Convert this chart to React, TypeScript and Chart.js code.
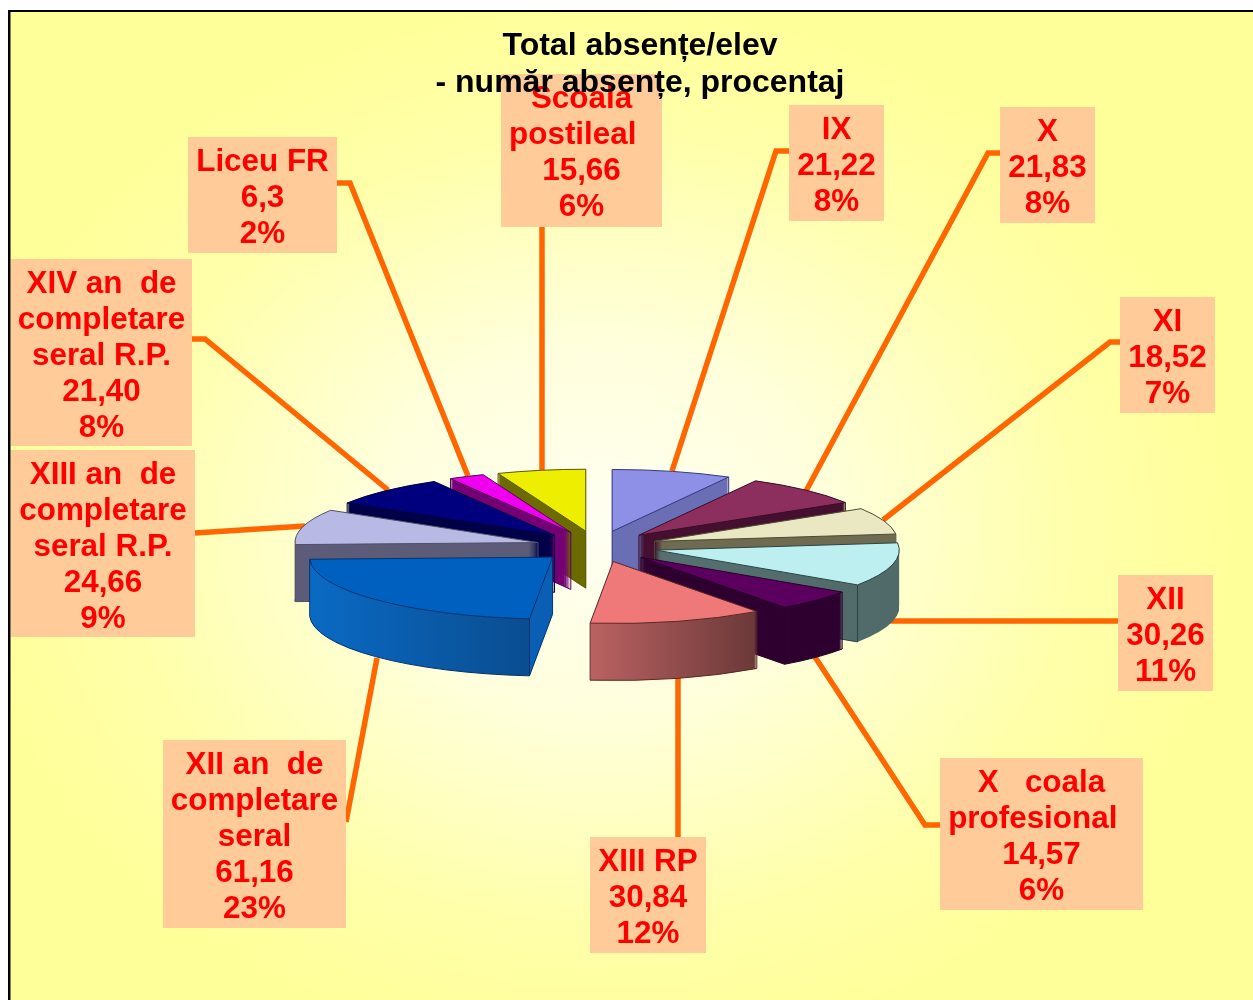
import React, { useEffect, useRef } from "react";
import { Chart, registerables } from "chart.js";

Chart.register(...registerables);

// ---- data ----
const categories: string[][] = [
  ["IX"],
  ["X"],
  ["XI"],
  ["XII"],
  ["X   coala", "profesional  "],
  ["XIII RP"],
  ["XII an  de", "completare", "seral"],
  ["XIII an  de", "completare", "seral R.P."],
  ["XIV an  de", "completare", "seral R.P."],
  ["Liceu FR"],
  ["Scoala", "postileal  "],
];
const values = [21.22, 21.83, 18.52, 30.26, 14.57, 30.84, 61.16, 24.66, 21.4, 6.3, 15.66];
const valueLabels = ["21,22", "21,83", "18,52", "30,26", "14,57", "30,84", "61,16", "24,66", "21,40", "6,3", "15,66"];
const percentLabels = ["8%", "8%", "7%", "11%", "6%", "12%", "23%", "9%", "8%", "2%", "6%"];
const titleLines = ["Total absențe/elev", "- număr absențe, procentaj"];

// ---- styles ----
const topColors = ["#8e90e8", "#8c2f5e", "#e9e8c2", "#bdeef0", "#5c0060", "#ef7878", "#0060c0", "#b9b9e6", "#00007f", "#f000f0", "#eeee00"];
const wallColorsL = ["#6a6eb4", "#451030", "#6e6b50", "#566f70", "#2d0030", "#bb6262", "#0a6ac4", "#5c5c78", "#000048", "#750075", "#6b6b00"];
const wallColorsR = ["#6a6eb4", "#451030", "#6e6b50", "#506a6a", "#2d0030", "#6a3838", "#0a4d90", "#5c5c78", "#000048", "#750075", "#6b6b00"];
const edgeColors = ["#34377a", "#3a0c28", "#4c4c34", "#2c4444", "#280028", "#5c2626", "#003470", "#50506a", "#000038", "#580058", "#585800"];
const BLUE_FACE = "#0a5fb4";
const BLUE_INDEX = 6;

// ---- layout ----
const PIE_X = 597;
const PIE_Y = 546.5;
const RADIUS = 243;
const EXPLODE = 61;
const TILT = 0.255;
const DEPTH = 57;
const ORANGE = "#ff6600";
const BOX = "#ffcc99";
const LABEL_STEP = 36.1;

type Callout = { box: [number, number, number, number]; leader: [number, number][] };
const callouts: Callout[] = [
  { box: [789, 105, 884, 221], leader: [[789, 151], [776, 151], [672, 471]] },
  { box: [1000, 107, 1095, 223], leader: [[1000, 153], [988, 153], [806, 491]] },
  { box: [1120, 297, 1215, 413], leader: [[1120, 342], [1110, 342], [883, 520]] },
  { box: [1118, 575, 1213, 691], leader: [[1118, 621], [890, 621]] },
  { box: [940, 758, 1143, 910], leader: [[940, 825], [925, 825], [815, 657]] },
  { box: [590, 837, 706, 953], leader: [[678, 837], [678, 678]] },
  { box: [163, 740, 346, 928], leader: [[346, 822], [377, 658]] },
  { box: [11, 450, 195, 637], leader: [[195, 533], [305, 526]] },
  { box: [11, 259, 192, 446], leader: [[192, 339], [205, 339], [388, 490]] },
  { box: [188, 137, 337, 253], leader: [[337, 183], [350, 183], [468, 476]] },
  { box: [501, 74, 662, 227], leader: [[542, 227], [542, 470]] },
];

const backdropPlugin = {
  id: "backdrop",
  beforeDraw(chart: any) {
    const ctx: CanvasRenderingContext2D = chart.ctx;
    const W = chart.width;
    const H = chart.height;
    ctx.save();
    ctx.fillStyle = "#ffffff";
    ctx.fillRect(0, 0, W, H);
    ctx.fillStyle = "#000000";
    ctx.fillRect(8, 10, W - 8, H - 10);
    ctx.save();
    ctx.beginPath();
    ctx.rect(10.5, 12, W, H);
    ctx.clip();
    ctx.translate(600, 530);
    ctx.scale(1, 0.83);
    const g = ctx.createRadialGradient(0, 0, 0, 0, 0, 640);
    g.addColorStop(0, "#fffff2");
    g.addColorStop(0.35, "#ffffdc");
    g.addColorStop(0.75, "#ffffaa");
    g.addColorStop(1, "#ffff99");
    ctx.fillStyle = g;
    ctx.fillRect(-700, -700, 1400, 1400);
    ctx.restore();

    callouts.forEach((c, i) => {
      ctx.strokeStyle = ORANGE;
      ctx.lineWidth = 5.5;
      ctx.lineJoin = "miter";
      ctx.beginPath();
      c.leader.forEach(([x, y], j) => (j ? ctx.lineTo(x, y) : ctx.moveTo(x, y)));
      ctx.stroke();
      const [x0, y0, x1, y1] = c.box;
      ctx.fillStyle = BOX;
      ctx.fillRect(x0, y0, x1 - x0, y1 - y0);
      ctx.fillStyle = "#ff0000";
      ctx.font = 'bold 31.4px "Liberation Sans"';
      ctx.textAlign = "center";
      ctx.textBaseline = "alphabetic";
      const lines = [...categories[i], valueLabels[i], percentLabels[i]];
      lines.forEach((t, k) => ctx.fillText(t, (x0 + x1) / 2, y0 + 33.8 + k * LABEL_STEP));
    });
    ctx.restore();
  },
};

const pie3dPlugin = {
  id: "pie3d",
  beforeDatasetsDraw(chart: any) {
    const ctx: CanvasRenderingContext2D = chart.ctx;
    const arcs: any[] = chart.getDatasetMeta(0).data;
    const mid = (a: any) => a.startAngle + a.circumference / 2;
    const order = arcs
      .map((a, i) => i)
      .sort((p, q) => Math.sin(mid(arcs[p])) - Math.sin(mid(arcs[q])));

    const placed = (a: any, dy: number, paint: () => void) => {
      ctx.save();
      ctx.translate(PIE_X, PIE_Y + dy);
      ctx.scale(1, TILT);
      ctx.translate(-a.x, -a.y);
      ctx.translate(Math.cos(mid(a)) * EXPLODE, Math.sin(mid(a)) * EXPLODE);
      paint();
      ctx.restore();
    };

    order.forEach((i) => {
      const a = arcs[i];
      const base = a.options;
      const m = mid(a);
      const r = a.outerRadius;
      const s = a.startAngle;
      const e = a.endAngle;
      const ax = PIE_X + Math.cos(m) * EXPLODE;
      const ay = PIE_Y + Math.sin(m) * EXPLODE * TILT;
      const corner = (t: number): [number, number] => [ax + Math.cos(t) * r, ay + Math.sin(t) * r * TILT];
      const [sx, sy] = corner(s);
      const [ex, ey] = corner(e);
      const startFaceShown = Math.cos(s) < 0;
      const endFaceShown = Math.cos(e) > 0;

      // gradient in the chart's own x coordinates
      const toUser = a.x - ax;
      const gx0 = Math.min(ax, sx, ex) + toUser;
      const gx1 = Math.max(ax, sx, ex) + toUser;
      const grad = ctx.createLinearGradient(gx0, 0, gx1 + 1, 0);
      grad.addColorStop(0, wallColorsL[i]);
      if (i === BLUE_INDEX) {
        const stop = (sx + toUser - gx0) / (gx1 + 1 - gx0);
        grad.addColorStop(stop, wallColorsR[i]);
        grad.addColorStop(stop, BLUE_FACE);
        grad.addColorStop(1, BLUE_FACE);
      } else {
        grad.addColorStop(1, wallColorsR[i]);
      }

      // side walls: the library's arc, stacked downwards
      a.options = { ...base, backgroundColor: grad, borderWidth: 0 };
      for (let k = DEPTH; k >= 1; k--) {
        placed(a, k, () => a.draw(ctx));
      }
      a.options = base;

      // visible edges of the walls
      ctx.save();
      ctx.strokeStyle = edgeColors[i];
      ctx.lineWidth = 1;
      const segment = (x0: number, y0: number, x1: number, y1: number) => {
        ctx.beginPath();
        ctx.moveTo(x0, y0);
        ctx.lineTo(x1, y1);
        ctx.stroke();
      };
      if (startFaceShown || endFaceShown) segment(ax, ay, ax, ay + DEPTH);
      if (startFaceShown || Math.sin(s) > 0) segment(sx, sy, sx, sy + DEPTH);
      if (endFaceShown || Math.sin(e) > 0) segment(ex, ey, ex, ey + DEPTH);
      if (startFaceShown) segment(ax, ay + DEPTH, sx, sy + DEPTH);
      if (endFaceShown) segment(ax, ay + DEPTH, ex, ey + DEPTH);
      // front part of the lower rim
      const norm = (t: number) => ((t % (2 * Math.PI)) + 2 * Math.PI) % (2 * Math.PI);
      const s0 = norm(s);
      const e0 = s0 + a.circumference;
      const from = Math.max(s0, 0);
      const to = Math.min(e0, Math.PI);
      if (to > from) {
        ctx.beginPath();
        ctx.ellipse(ax, ay + DEPTH, r, r * TILT, 0, from, to);
        ctx.stroke();
      }
      ctx.restore();

      // top face
      a.options = { ...base, borderWidth: 0 };
      placed(a, 0, () => a.draw(ctx));
      a.options = base;
      ctx.save();
      ctx.strokeStyle = edgeColors[i];
      ctx.lineWidth = 1;
      ctx.beginPath();
      ctx.moveTo(ax, ay);
      ctx.lineTo(sx, sy);
      ctx.ellipse(ax, ay, r, r * TILT, 0, s, e);
      ctx.closePath();
      ctx.stroke();
      ctx.restore();
    });
    return false;
  },
};

export default function App() {
  const ref = useRef<HTMLCanvasElement>(null);
  useEffect(() => {
    document.documentElement.style.overflow = "hidden";
    const chart = new Chart(ref.current!, {
      type: "pie",
      data: {
        labels: categories.map((c) => c.join(" ").trim()),
        datasets: [
          {
            data: values,
            backgroundColor: topColors,
            borderColor: edgeColors,
            borderWidth: 0,
            radius: RADIUS,
          } as any,
        ],
      },
      options: {
        responsive: false,
        animation: false,
        layout: { padding: { left: 27 } },
        plugins: {
          legend: { display: false },
          tooltip: { enabled: false },
          title: {
            display: true,
            text: titleLines,
            color: "#000000",
            font: { family: '"Liberation Sans"', size: 32, weight: "bold", lineHeight: 37 / 32 },
            padding: { top: 28, bottom: 0 },
          },
        },
      },
      plugins: [backdropPlugin, pie3dPlugin],
    });
    return () => chart.destroy();
  }, []);
  return (
    <canvas
      ref={ref}
      width={1253}
      height={1000}
      style={{ position: "fixed", left: 0, top: 0, display: "block" }}
    />
  );
}
